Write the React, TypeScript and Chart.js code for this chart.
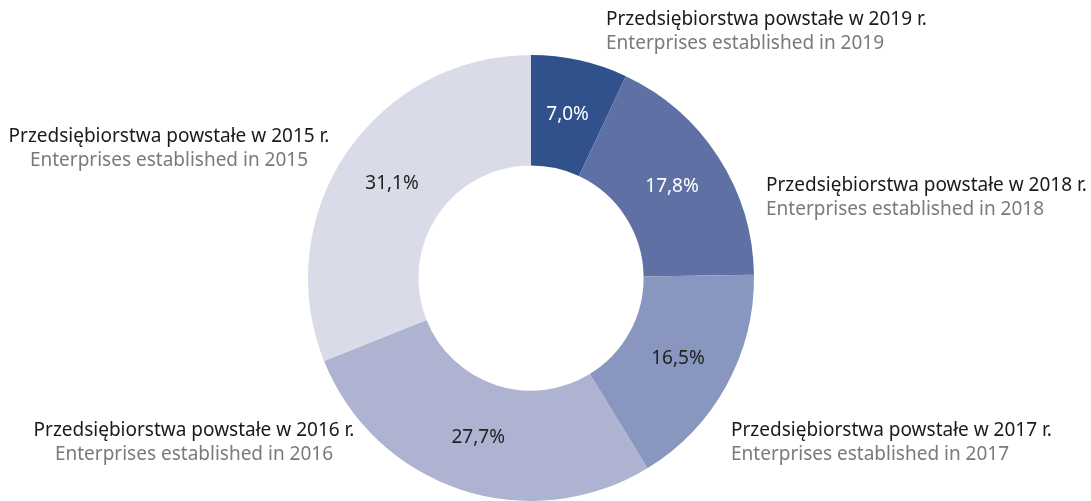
import React, { useEffect, useRef } from "react";
import { Chart, registerables } from "chart.js";

Chart.register(...registerables);

const labelsPl = [
  "Przedsiębiorstwa powstałe w 2019 r.",
  "Przedsiębiorstwa powstałe w 2018 r.",
  "Przedsiębiorstwa powstałe w 2017 r.",
  "Przedsiębiorstwa powstałe w 2016 r.",
  "Przedsiębiorstwa powstałe w 2015 r.",
];
const labelsEn = [
  "Enterprises established in 2019",
  "Enterprises established in 2018",
  "Enterprises established in 2017",
  "Enterprises established in 2016",
  "Enterprises established in 2015",
];
const shares = [7.0, 17.8, 16.5, 27.7, 31.1];
const colors = ["#30518b", "#5f71a4", "#8996bf", "#aeb3d2", "#d9dbe8"];
const valueColors = ["#ffffff", "#ffffff", "#222222", "#222222", "#222222"];
// outside label placement relative to chart centre: dx, dy (first line), alignment
const outsideLayout = [
  { dx: 75, dy: -258, align: "left" },
  { dx: 235, dy: -92, align: "left" },
  { dx: 200, dy: 153, align: "left" },
  { dx: -337, dy: 153, align: "center" },
  { dx: -362, dy: -141, align: "center" },
];

const FONT = '"Noto Sans", sans-serif';

const labelPlugin = {
  id: "donutLabels",
  afterDatasetsDraw(chart: any) {
    const ctx = chart.ctx;
    const meta = chart.getDatasetMeta(0);
    ctx.save();
    meta.data.forEach((arc: any, i: number) => {
      const p = arc.tooltipPosition();
      ctx.font = `19px ${FONT}`;
      ctx.fillStyle = valueColors[i];
      ctx.textAlign = "center";
      ctx.textBaseline = "middle";
      ctx.fillText(shares[i].toFixed(1).replace(".", ",") + "%", p.x, p.y);
    });
    const first = meta.data[0];
    const cx = first.x;
    const cy = first.y;
    outsideLayout.forEach((l, i) => {
      ctx.textAlign = l.align;
      ctx.textBaseline = "middle";
      ctx.font = `19px ${FONT}`;
      ctx.fillStyle = "#1a1a1a";
      ctx.fillText(labelsPl[i], cx + l.dx, cy + l.dy);
      ctx.fillStyle = "#7a7a7a";
      ctx.fillText(labelsEn[i], cx + l.dx, cy + l.dy + 24);
    });
    ctx.restore();
  },
};

export default function App() {
  const ref = useRef<HTMLCanvasElement>(null);
  useEffect(() => {
    if (!ref.current) return;
    const chart = new Chart(ref.current, {
      type: "doughnut",
      data: {
        labels: labelsPl,
        datasets: [
          {
            data: shares,
            backgroundColor: colors,
            borderWidth: 0,
          },
        ],
      },
      options: {
        responsive: false,
        animation: false,
        cutout: "50.5%",
        layout: { padding: { top: 55, bottom: 0, left: 0, right: 29 } },
        plugins: {
          legend: { display: false },
          tooltip: { enabled: false },
        },
      },
      plugins: [labelPlugin],
    });
    return () => chart.destroy();
  }, []);
  return (
    <div style={{ position: "fixed", left: 0, top: 0, width: 1091, height: 501, background: "#fff" }}>
      <canvas ref={ref} width={1091} height={501} />
    </div>
  );
}
